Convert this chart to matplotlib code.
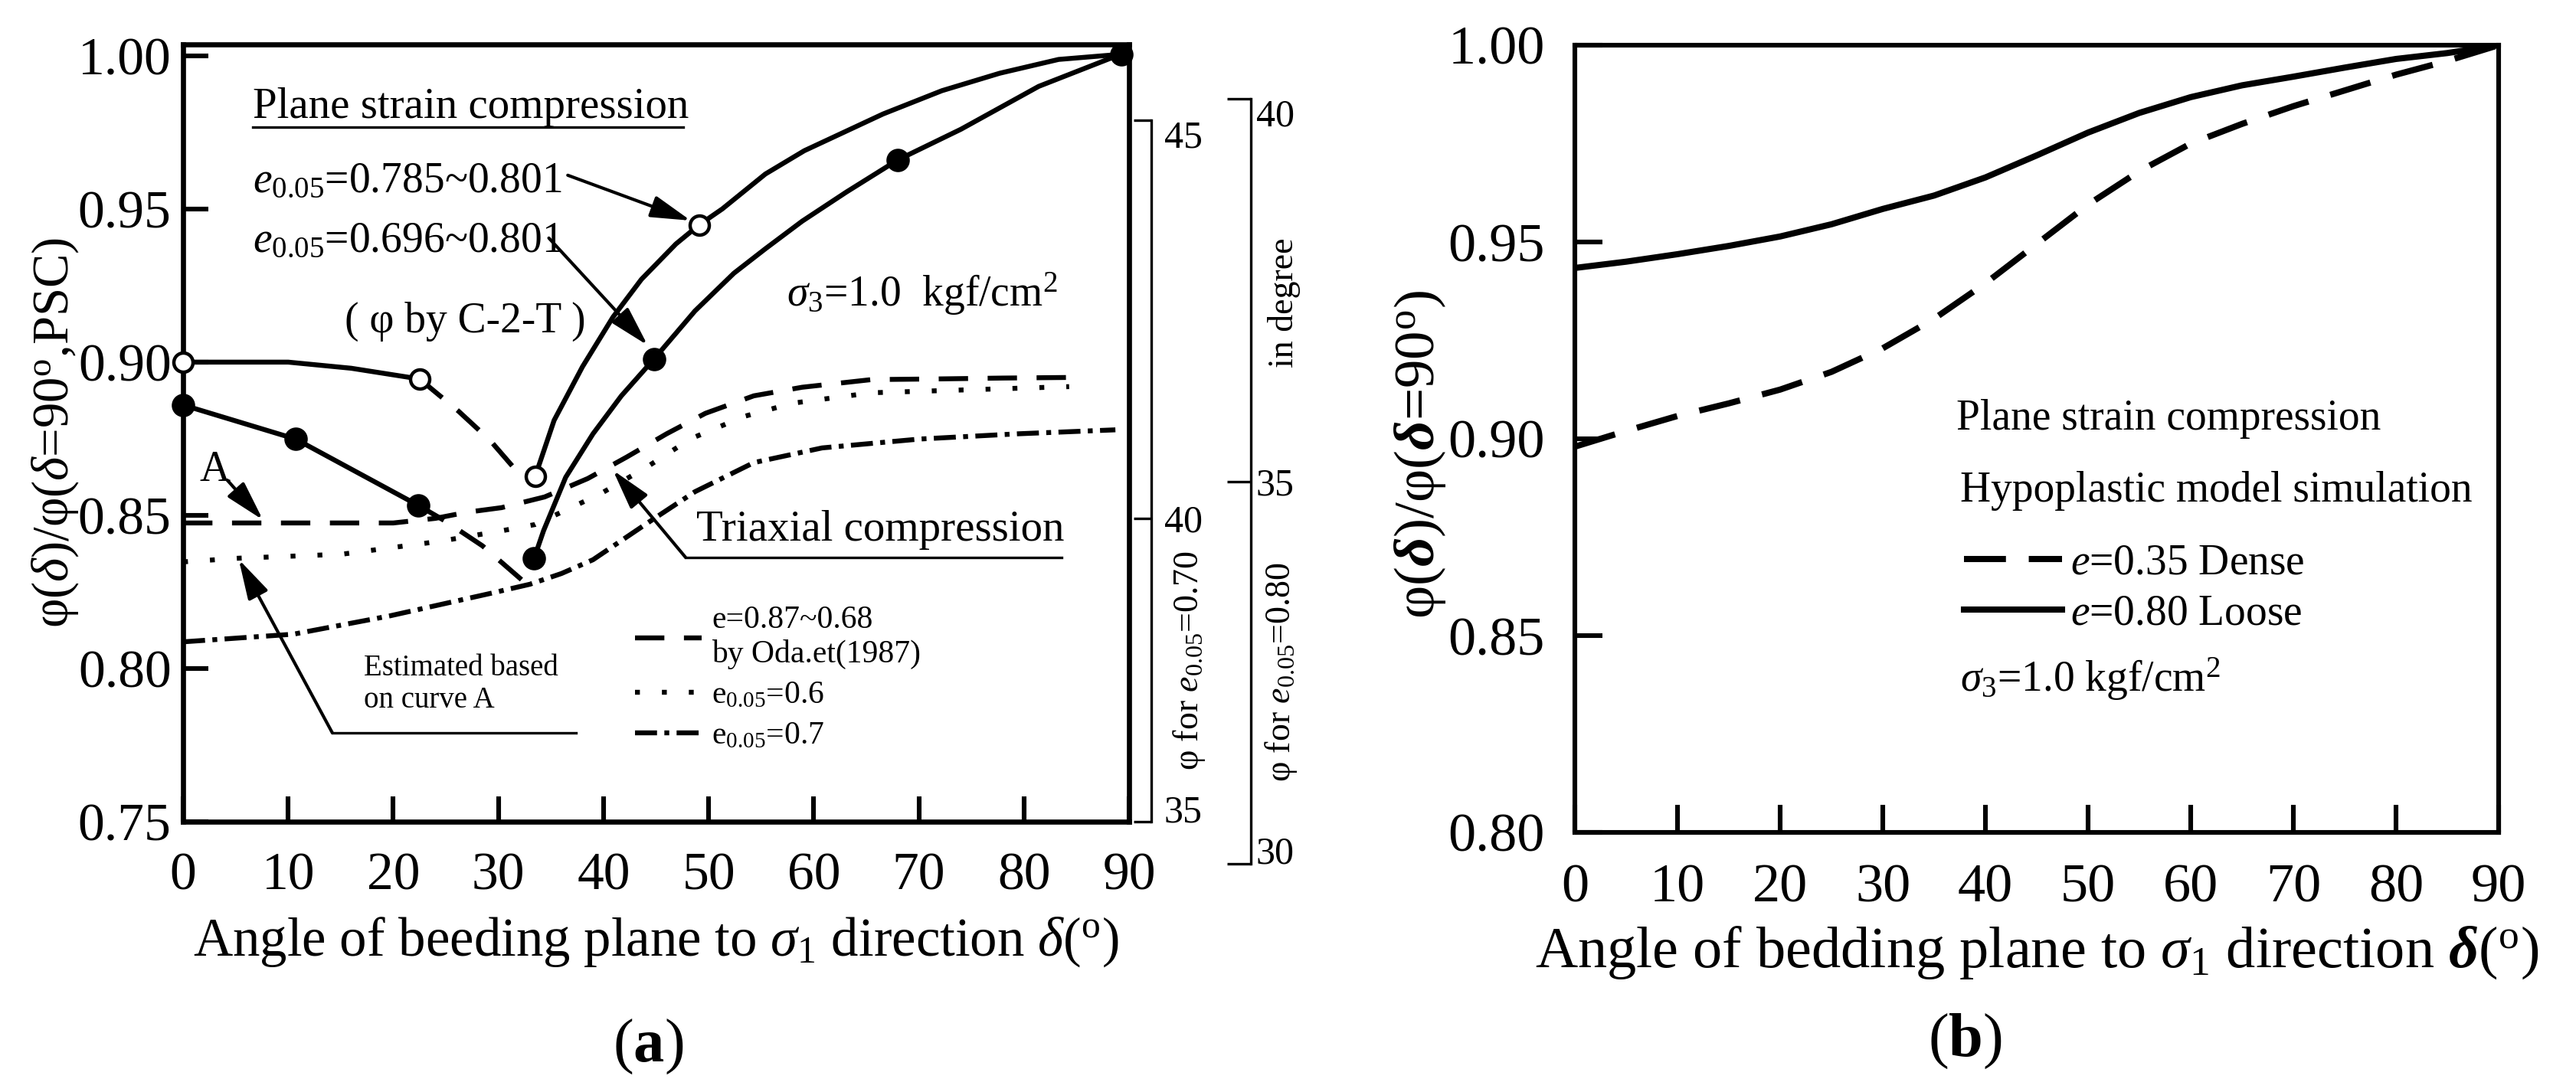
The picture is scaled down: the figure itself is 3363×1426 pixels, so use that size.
import matplotlib
matplotlib.use('Agg')
import matplotlib.pyplot as plt

plt.rcParams['font.family'] = ['Liberation Serif', 'DejaVu Serif']
plt.rcParams['mathtext.fontset'] = 'custom'
plt.rcParams['mathtext.rm'] = 'Liberation Serif'
plt.rcParams['mathtext.it'] = 'Liberation Serif:italic'
plt.rcParams['mathtext.bf'] = 'Liberation Serif:bold'
plt.rcParams['mathtext.bfit'] = 'Liberation Serif:bold:italic'

# ---------------- panel (a) data ----------------
# plane strain, phi by C-2-T (open circles)
pso_x1 = [0, 10, 16, 22.5]
pso_y1 = [0.900, 0.900, 0.898, 0.8945]
pso_xd = [22.5, 26.2, 29.2, 31.6, 33.5]
pso_yd = [0.8945, 0.884, 0.8745, 0.865, 0.8627]
pso_x2 = [33.5, 35.3, 38.0, 40.9, 43.6, 46.9, 49.1, 51.3, 55.4, 59.1, 66.6, 72.2, 77.7, 83.3, 89.3]
pso_y2 = [0.8627, 0.881, 0.8985, 0.9147, 0.927, 0.9386, 0.9448, 0.950, 0.9614, 0.969, 0.981,
          0.9886, 0.9943, 0.9988, 1.0005]
pso_mx = [0, 22.5, 33.5, 49.1]
pso_my = [0.900, 0.8945, 0.8627, 0.9448]

# plane strain, filled circles
psf_x1 = [0, 10.7, 22.4]
psf_y1 = [0.886, 0.8749, 0.8532]
psf_xd = [22.4, 25.0, 28.5, 32.2]
psf_yd = [0.8532, 0.848, 0.840, 0.829]
psf_x2 = [33.4, 34.3, 36.4, 39.0, 41.7, 44.8, 48.7, 52.4, 55.4, 58.9, 63.1, 68.0, 74.0, 81.4, 88.1, 89.3]
psf_y2 = [0.836, 0.845, 0.8624, 0.8766, 0.889, 0.901, 0.9167, 0.929, 0.937, 0.946, 0.9555, 0.966,
          0.976, 0.990, 0.999, 1.0005]
psf_mx = [0, 10.7, 22.4, 33.4, 44.8, 68.0, 89.3]
psf_my = [0.886, 0.8749, 0.8532, 0.836, 0.901, 0.966, 1.0005]

# triaxial compression
oda_x = [0, 10, 20, 24, 27, 30.3, 34.4, 38.5, 42.2, 46, 49.7, 54.3, 58.9, 65.5, 71.4, 78, 84.5]
oda_y = [0.8475, 0.8475, 0.8475, 0.849, 0.851, 0.8525, 0.856, 0.862, 0.869, 0.8766, 0.8833, 0.889,
         0.8918, 0.8943, 0.8945, 0.8948, 0.895]
e06_x = [0, 5.3, 15.1, 24.4, 30.4, 33.5, 39.7, 44.1, 48.3, 53.4, 58, 65.5, 75, 84.3]
e06_y = [0.8348, 0.836, 0.8373, 0.8415, 0.845, 0.847, 0.857, 0.8657, 0.875, 0.8823, 0.8866, 0.890,
         0.891, 0.892]
e07_x = [0, 10.5, 19.7, 29.1, 33, 36, 39, 44.1, 48.7, 54.3, 60.8, 70.1, 79.4, 88.7]
e07_y = [0.8087, 0.8112, 0.8172, 0.8244, 0.8275, 0.831, 0.8355, 0.8473, 0.8577, 0.8672, 0.872,
         0.8749, 0.8766, 0.8779]

a_xticks = [0, 10, 20, 30, 40, 50, 60, 70, 80, 90]
a_yticks = [0.75, 0.80, 0.85, 0.90, 0.95, 1.00]
a_ylabels = ['0.75', '0.80', '0.85', '0.90', '0.95', '1.00']

# right-hand phi scales
phi70_labels = ['35', '40', '45']
phi70_pos = [0.750, 0.849, 0.979]
phi80_ticks = [30, 35, 40]

# ---------------- panel (b) data ----------------
b_x = [0, 5, 10, 15, 20, 25, 30, 35, 40, 45, 50, 55, 60, 65, 70, 75, 80, 85, 90]
b_dense = [0.898, 0.902, 0.9058, 0.909, 0.9125, 0.917, 0.923, 0.9305, 0.9395, 0.9495, 0.9595,
           0.968, 0.975, 0.980, 0.9845, 0.9885, 0.9925, 0.996, 1.0]
b_loose = [0.9434, 0.945, 0.9469, 0.949, 0.9514, 0.9545, 0.9584, 0.9618, 0.9664, 0.972, 0.9778,
           0.9828, 0.9868, 0.9898, 0.992, 0.9943, 0.9965, 0.998, 1.0]
b_yticks = [0.80, 0.85, 0.90, 0.95, 1.00]
b_ylabels = ['0.80', '0.85', '0.90', '0.95', '1.00']

W, H = 3363, 1426
fig = plt.figure(figsize=(W / 200, H / 200), dpi=200)
fig.patch.set_facecolor('white')


def frac(x0, y0, x1, y1):
    return [x0 / W, 1 - y1 / H, (x1 - x0) / W, (y1 - y0) / H]


lw_main = 2.3
dash_a = (6.0, 4.0)
dot_a = (1.0, 4.5)
dashdot_a = (4.5, 1.5, 1.0, 1.5)

# =============== panel (a) ===============
ax = fig.add_axes(frac(239, 58, 1474, 1073))
ax.set_xlim(0, 90)
ax.set_ylim(0.75, 1.0037)
for s in ax.spines.values():
    s.set_linewidth(2.4)
ax.set_xticks(a_xticks)
ax.set_yticks(a_yticks, a_ylabels)
ax.tick_params(direction='in', length=12, width=2.2, labelsize=25)
ax.tick_params(axis='y', pad=5.5)
ax.tick_params(axis='x', pad=14.5)

ax.plot(pso_x1, pso_y1, color='k', lw=lw_main)
ax.plot(pso_xd, pso_yd, color='k', lw=lw_main, ls=(0, dash_a))
ax.plot(pso_x2, pso_y2, color='k', lw=lw_main)
ax.plot(pso_mx, pso_my, ls='none', marker='o', ms=9, mfc='white', mec='k', mew=1.6, clip_on=False, zorder=5)

ax.plot(psf_x1, psf_y1, color='k', lw=lw_main)
ax.plot(psf_xd, psf_yd, color='k', lw=lw_main, ls=(0, dash_a))
ax.plot(psf_x2, psf_y2, color='k', lw=lw_main)
ax.plot(psf_mx, psf_my, ls='none', marker='o', ms=10, mfc='k', mec='k', clip_on=False, zorder=5)

l_oda, = ax.plot(oda_x, oda_y, color='k', lw=lw_main, ls=(0, dash_a))
l_e6, = ax.plot(e06_x, e06_y, color='k', lw=lw_main, ls=(0, dot_a))
l_e7, = ax.plot(e07_x, e07_y, color='k', lw=lw_main, ls=(0, dashdot_a))

arrow = dict(arrowstyle='-|>,head_length=0.8,head_width=0.22', color='k', lw=1.5,
             shrinkA=0, shrinkB=0, mutation_scale=20)

ax.text(6.6, 0.9796, 'Plane strain compression', fontsize=20.5, va='baseline')
ax.plot([6.6, 47.6], [0.9766, 0.9766], color='k', lw=1.2)
ax.text(6.6, 0.9555, '$e_{0.05}$=0.785~0.801', fontsize=20, va='baseline')
ax.text(6.6, 0.936, '$e_{0.05}$=0.696~0.801', fontsize=20, va='baseline')
ax.annotate('', xy=(48.3, 0.9462), xytext=(36.6, 0.961), arrowprops=arrow)
ax.annotate('', xy=(44.2, 0.9055), xytext=(34.8, 0.9405), arrowprops=arrow)
ax.text(15.4, 0.9132, '( φ by C-2-T )', fontsize=20, va='center')
ax.text(57.4, 0.9224, '$\\sigma_3$=1.0  kgf/cm$^2$', fontsize=20, va='center')

ax.text(3.0, 0.8647, 'A', fontsize=20, va='center', ha='center')
ax.annotate('', xy=(7.6, 0.8485), xytext=(4.2, 0.8615), arrowprops=arrow)

ax.text(48.8, 0.8453, 'Triaxial compression', fontsize=20.5, va='center')
ax.plot([83.6, 47.8], [0.8363, 0.8363], color='k', lw=1.2)
ax.annotate('', xy=(40.9, 0.8647), xytext=(47.8, 0.8363), arrowprops=arrow)

ax.text(17.2, 0.7949, 'Estimated based\non curve A', fontsize=14, va='center')
ax.plot([37.4, 14.2], [0.779, 0.779], color='k', lw=1.2)
ax.annotate('', xy=(5.3, 0.8356), xytext=(14.2, 0.779), arrowprops=arrow)

ax.legend(handles=[l_oda, l_e6, l_e7],
          labels=['e=0.87~0.68\nby Oda.et(1987)', '$\\mathrm{e}_{0.05}$=0.6', '$\\mathrm{e}_{0.05}$=0.7'],
          loc='upper left', bbox_to_anchor=(0.4777, 0.278), frameon=False, fontsize=15,
          handlelength=2.1, handletextpad=0.3, labelspacing=0.35, borderpad=0, borderaxespad=0)

ax.set_xlabel('Angle of beeding plane to $\\sigma_1$ direction $\\delta$($^{\\rm o}$)', fontsize=25.5)
ax.xaxis.label.set_va('baseline')
ax.xaxis.set_label_coords(0.5, -0.1724)
ax.set_ylabel('φ($\\delta$)/φ($\\delta$=90$^{\\rm o}$,PSC)', fontsize=24)
ax.yaxis.label.set_va('baseline')
ax.yaxis.set_label_coords(-0.122, 0.5)

# right scale: phi for e0.05=0.70
ax2 = ax.twinx()
ax2.set_ylim(ax.get_ylim())
for k in ['top', 'bottom', 'left']:
    ax2.spines[k].set_visible(False)
ax2.spines['right'].set_position(('axes', (1503 - 239) / 1235))
ax2.spines['right'].set_bounds(phi70_pos[0], phi70_pos[-1])
ax2.spines['right'].set_linewidth(1.2)
ax2.set_yticks(phi70_pos, phi70_labels)
ax2.tick_params(axis='y', direction='in', length=8.3, width=1.2, labelsize=18, pad=6)
ax2.yaxis.get_major_ticks()[0].label2.set_va('baseline')
ax2.yaxis.get_major_ticks()[-1].label2.set_va('top')

# right scale: phi for e0.05=0.80
ax3 = fig.add_axes(frac(1623, 129, 1633, 1128))
ax3.set_ylim(phi80_ticks[0], phi80_ticks[-1])
ax3.patch.set_visible(False)
for k in ['top', 'bottom', 'left']:
    ax3.spines[k].set_visible(False)
ax3.spines['right'].set_linewidth(1.2)
ax3.xaxis.set_visible(False)
ax3.yaxis.tick_right()
ax3.set_yticks(phi80_ticks, [str(t) for t in phi80_ticks])
ax3.tick_params(axis='y', direction='in', length=11, width=1.2, labelsize=18, pad=2.5)
ax3.yaxis.get_major_ticks()[0].label2.set_va('baseline')
ax3.yaxis.get_major_ticks()[-1].label2.set_va('top')

fig.text(1552 / W, 1 - 863 / H, 'φ for $e_{0.05}$=0.70', rotation=90, fontsize=16.5, ha='center', va='center')
fig.text(1672 / W, 1 - 878 / H, 'φ for $e_{0.05}$=0.80', rotation=90, fontsize=16.5, ha='center', va='center')
fig.text(1676 / W, 1 - 395 / H, 'in degree', rotation=90, fontsize=16.5, ha='center', va='center')

# =============== panel (b) ===============
bx = fig.add_axes(frac(2056, 59, 3262, 1087))
bx.set_xlim(0, 90)
bx.set_ylim(0.80, 1.00)
for s in bx.spines.values():
    s.set_linewidth(2.2)
bx.set_xticks(a_xticks)
bx.set_yticks(b_yticks, b_ylabels)
bx.tick_params(direction='in', length=13, width=2.2, labelsize=26)
bx.tick_params(axis='y', pad=14)
bx.tick_params(axis='x', pad=14.5)

l_dense, = bx.plot(b_x, b_dense, color='k', lw=2.9, ls=(0, (6.8, 3.7)))
l_loose, = bx.plot(b_x, b_loose, color='k', lw=2.9)

bx.text(37.2, 0.905, 'Plane strain compression', fontsize=20, va='center')
bx.text(37.5, 0.8868, 'Hypoplastic model simulation', fontsize=20, va='center')
bx.text(37.5, 0.839, '$\\sigma_3$=1.0 kgf/cm$^2$', fontsize=20, va='center')
bx.legend(handles=[l_dense, l_loose], labels=['$e$=0.35 Dense', '$e$=0.80 Loose'],
          loc='upper left', bbox_to_anchor=(0.421, 0.367), frameon=False, fontsize=20,
          handlelength=2.3, handletextpad=0.2, labelspacing=0.25, borderpad=0, borderaxespad=0)

bx.set_xlabel('Angle of bedding plane to $\\sigma_1$ direction $\\mathbfit{\\delta}$($^{\\rm o}$)', fontsize=27.5)
bx.xaxis.label.set_va('baseline')
bx.xaxis.set_label_coords(0.5, -0.1712)
bx.set_ylabel('φ($\\mathbfit{\\delta}$)/φ($\\mathbfit{\\delta}$=90$^{\\rm o}$)', fontsize=27)
bx.yaxis.label.set_va('baseline')
bx.yaxis.set_label_coords(-0.1526, 0.48)

fig.text(846 / W, 1 - 1367 / H, '($\\mathbf{a}$)', fontsize=29, ha='center', va='center')
fig.text(2565 / W, 1 - 1360 / H, '($\\mathbf{b}$)', fontsize=29, ha='center', va='center')

fig.savefig('out.png', dpi=200)
